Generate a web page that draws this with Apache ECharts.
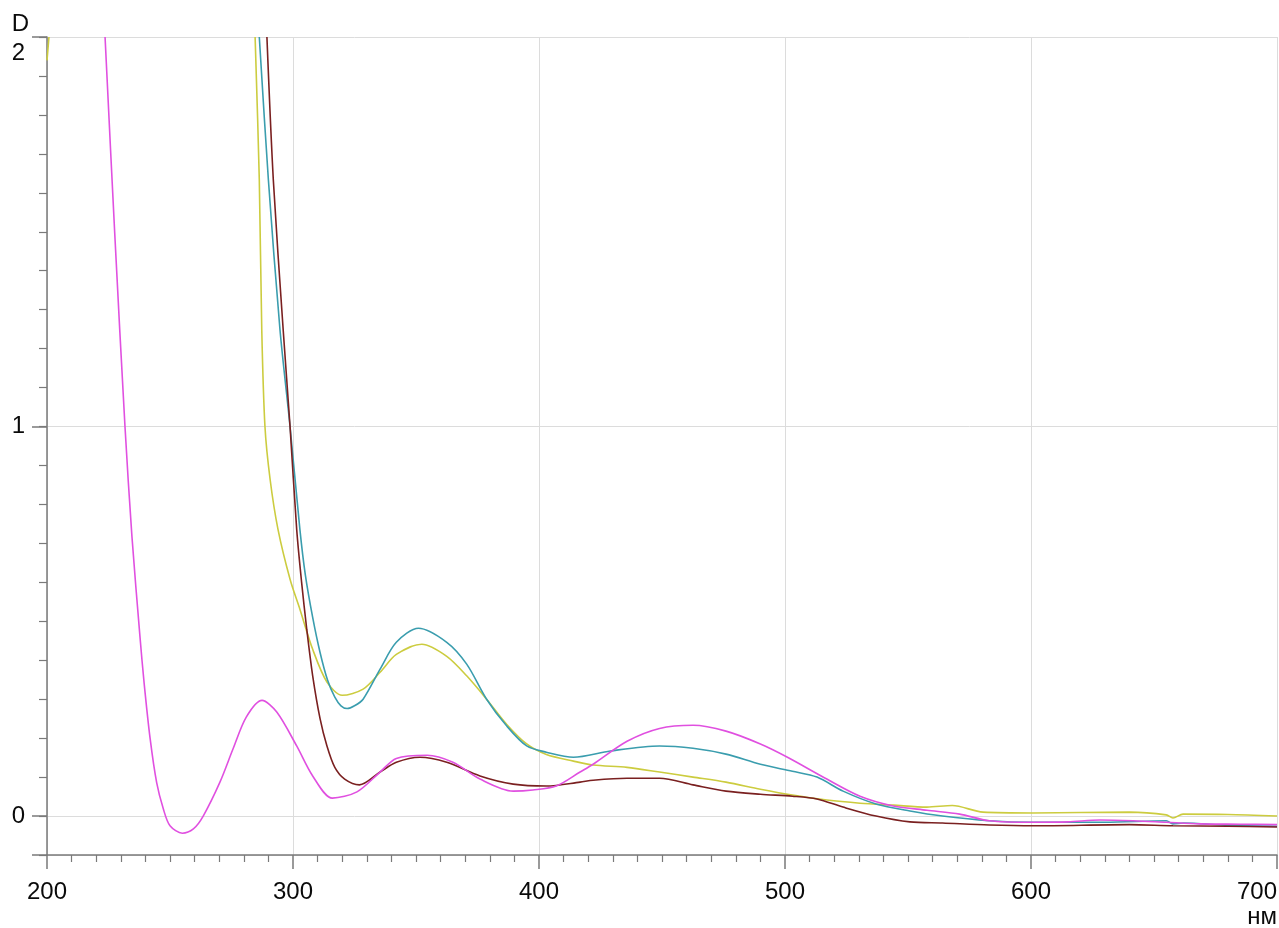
<!DOCTYPE html>
<html><head><meta charset="utf-8">
<script src="https://cdn.jsdelivr.net/npm/echarts@6/dist/echarts.min.js"></script>
<style>html,body{margin:0;padding:0;background:#fff}#c{width:1279px;height:928px}</style>
</head><body><div id="c"></div>
<script>
// wavelength (nm) and optical density (D)
const magentaNm = [223.6,227.5,231.7,234.5,237.8,239.5,241.9,244.6,247.3,250,255,259.5,263.5,270.3,275.6,281,287.4,293.4,301.5,308,316,326,335.4,342,354.5,365,376,389.5,397.5,407,416.7,422,435.8,449,462.6,476,490,501,517,530.5,544,557.7,571,583,601,615,628,641.6,655,668.7,685,700];
const magentaD  = [2.0,1.5,1.0,0.72,0.46,0.34,0.2,0.085,0.018,-0.025,-0.044,-0.033,0.0,0.087,0.172,0.254,0.297,0.267,0.18,0.103,0.046,0.062,0.113,0.148,0.156,0.138,0.095,0.064,0.067,0.077,0.113,0.133,0.192,0.225,0.233,0.218,0.185,0.151,0.095,0.051,0.026,0.015,0.005,-0.012,-0.016,-0.015,-0.01,-0.012,-0.016,-0.02,-0.021,-0.022];

const tealNm = [286.3,290,294.7,298.8,302.8,305,308,311,314,317,319.5,322,325,328.5,335.4,342,351,362.5,370.6,378.7,386.9,395,403,414,429,449,462.6,476,490,503,513,523.6,537,550.8,564,583,601,630,655,657.7,662,680,700];
const tealD  = [2.0,1.633,1.249,1.0,0.736,0.62,0.51,0.42,0.35,0.305,0.283,0.276,0.283,0.3,0.377,0.446,0.482,0.446,0.39,0.3,0.231,0.18,0.164,0.151,0.167,0.18,0.174,0.159,0.133,0.115,0.1,0.064,0.031,0.013,0.0,-0.012,-0.016,-0.016,-0.012,-0.02,-0.018,-0.024,-0.026];

const yellowNm = [200,200.8,201,284.6,286.3,287.3,288.6,290.7,293.9,298.8,302.8,308,313.8,320,328.5,335.4,342,352.4,362.5,370.6,378.7,386.9,395,403,414,422,435.8,449,462.6,476,490,503,517,530.5,544,557.7,568,580.5,600.8,640,655,657.7,661.8,680,700];
const yellowD  = [1.94,2.0,null,2.0,1.633,1.249,1.0,0.864,0.736,0.608,0.531,0.428,0.344,0.31,0.326,0.369,0.415,0.441,0.41,0.36,0.3,0.235,0.185,0.158,0.141,0.131,0.125,0.113,0.1,0.087,0.069,0.054,0.041,0.033,0.028,0.023,0.027,0.01,0.008,0.01,0.003,-0.005,0.005,0.004,0.0];

const brownNm = [289.4,292,296,298.8,301.5,303.5,305.6,308,311,313.8,317,321,327,335.4,342,351.6,362.5,376,389.5,403,416.7,422,435.8,449,462.6,476,490,503,513,523.6,537,550.8,564,583,601,640,657.7,680,700];
const brownD  = [2.0,1.633,1.249,1.0,0.736,0.6,0.479,0.36,0.25,0.18,0.125,0.095,0.08,0.113,0.138,0.151,0.138,0.103,0.082,0.077,0.087,0.092,0.097,0.097,0.08,0.064,0.056,0.051,0.044,0.023,0.0,-0.015,-0.018,-0.023,-0.025,-0.022,-0.025,-0.026,-0.028];

const xLabelUnit = 'нм';
const yLabelUnit = 'D';

const FONT = '"Liberation Sans", Arial, Helvetica, sans-serif';
const AXIS = '#7a7a7a';
const GRID = '#dcdcdc';
const TXT = '#0a0a0a';

function pairs(xs, ys){ return xs.map((x,i)=>[x, ys[i]]); }
function line(name, xs, ys, color){
  return {name, type:'line', data:pairs(xs,ys), showSymbol:false, symbol:'none',
    smooth:0.3, connectNulls:false,
    lineStyle:{color, width:1.6}, itemStyle:{color}, xAxisIndex:0, yAxisIndex:0};
}

const chart = echarts.init(document.getElementById('c'), null, {renderer:'canvas'});
chart.setOption({
  animation:false,
  backgroundColor:'#ffffff',
  grid:{left:47, right:2, top:37, bottom:73, containLabel:false, outerBoundsMode:'none'},
  xAxis:{
    type:'value', min:200, max:700, interval:100,
    name:xLabelUnit, nameLocation:'end', nameGap:0, nameMoveOverlap:false,
    nameTextStyle:{fontFamily:FONT, fontSize:24, color:TXT, align:'right', verticalAlign:'top', padding:[50,0,0,0]},
    axisLine:{show:true, onZero:false, lineStyle:{color:AXIS, width:1.5}},
    axisTick:{show:true, length:14, lineStyle:{color:AXIS, width:1.5}},
    minorTick:{show:true, splitNumber:10, length:7, lineStyle:{color:AXIS, width:1.2}},
    axisLabel:{margin:25, fontFamily:FONT, fontSize:24, color:TXT, alignMaxLabel:'right'},
    splitLine:{show:true, lineStyle:{color:GRID, width:1}}
  },
  yAxis:[{
    type:'value', min:-0.1, max:2, splitNumber:2, position:'left',
    name:yLabelUnit, nameLocation:'end', nameGap:1,
    nameTextStyle:{fontFamily:FONT, fontSize:24, color:TXT, align:'right', verticalAlign:'bottom', padding:[0,18,0,0]},
    axisLine:{show:true, onZero:false, lineStyle:{color:AXIS, width:1.5}},
    axisTick:{show:true, length:15, lineStyle:{color:AXIS, width:1.5}},
    axisLabel:{margin:22, fontFamily:FONT, fontSize:24, color:TXT,
      formatter:function(v){ if(v<0) return ''; if(v===2) return '{t|2}'; return String(v); },
      rich:{t:{fontFamily:FONT, fontSize:24, color:TXT, padding:[32,0,0,0]}}},
    splitLine:{show:true, lineStyle:{color:GRID, width:1}}
  },{
    type:'value', min:-0.1, max:2, interval:0.1, position:'left', offset:0,
    axisLine:{show:false, onZero:false},
    axisTick:{show:true, length:8, lineStyle:{color:AXIS, width:1.2}},
    axisLabel:{show:false},
    splitLine:{show:false}
  }],
  series:[
    line('yellow', yellowNm, yellowD, '#cccc3f'),
    line('teal', tealNm, tealD, '#3a9dae'),
    line('brown', brownNm, brownD, '#7a2020'),
    line('magenta', magentaNm, magentaD, '#e050e0')
  ]
});
</script></body></html>
